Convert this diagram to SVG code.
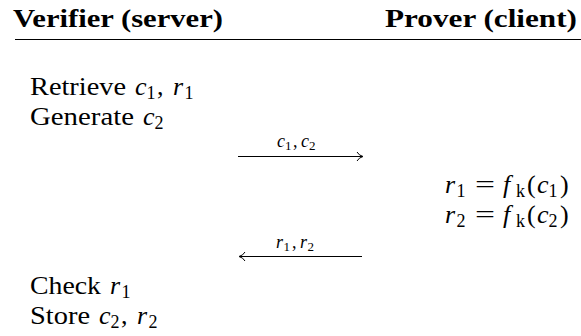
<svg xmlns="http://www.w3.org/2000/svg" width="581" height="336" viewBox="0 0 581 336">
<style>
text{font-family:"Liberation Serif","Times New Roman",serif;fill:#000;}
.hd{font-size:26px;font-weight:bold;}
.t{font-size:26px;}
.i{font-style:italic;}
.s{font-size:18px;}
.lb{font-size:18px;}
.lbs{font-size:13px;}
.ln{stroke:#000;stroke-width:1;fill:none;}
</style>
<rect width="581" height="336" fill="#fff"/>
<g id="header">
<text class="hd" x="13" y="27" textLength="210" lengthAdjust="spacingAndGlyphs">Verifier (server)</text>
<text class="hd" x="385" y="27" textLength="192" lengthAdjust="spacingAndGlyphs">Prover (client)</text>
<line class="ln" x1="15" y1="39.5" x2="581" y2="39.5"/>
</g>
<g id="verifier-step1">
<text class="t" y="95"><tspan x="30" textLength="96" lengthAdjust="spacingAndGlyphs">Retrieve</tspan><tspan class="i" x="135">c</tspan><tspan class="s" x="146.5" y="99">1</tspan><tspan x="157" y="95">,</tspan><tspan class="i" x="173">r</tspan><tspan class="s" x="184.5" y="99">1</tspan></text>
<text class="t" y="125"><tspan x="30" textLength="104" lengthAdjust="spacingAndGlyphs">Generate</tspan><tspan class="i" x="143">c</tspan><tspan class="s" x="154.5" y="129">2</tspan></text>
</g>
<g id="prover-step">
<text class="t" y="193"><tspan class="i" x="445">r</tspan><tspan class="s" x="456.5" y="197">1</tspan><tspan x="475" y="193" textLength="20" lengthAdjust="spacingAndGlyphs">=</tspan><tspan class="i" x="503">f</tspan><tspan class="s" x="516" y="197">k</tspan><tspan x="527" y="193">(</tspan><tspan class="i" x="537">c</tspan><tspan class="s" x="548.5" y="197">1</tspan><tspan x="560" y="193">)</tspan></text>
<text class="t" y="223"><tspan class="i" x="445">r</tspan><tspan class="s" x="456.5" y="227">2</tspan><tspan x="475" y="223" textLength="20" lengthAdjust="spacingAndGlyphs">=</tspan><tspan class="i" x="503">f</tspan><tspan class="s" x="516" y="227">k</tspan><tspan x="527" y="223">(</tspan><tspan class="i" x="537">c</tspan><tspan class="s" x="548.5" y="227">2</tspan><tspan x="560" y="223">)</tspan></text>
</g>
<g id="verifier-step2">
<text class="t" y="294"><tspan x="30" textLength="71" lengthAdjust="spacingAndGlyphs">Check</tspan><tspan class="i" x="110">r</tspan><tspan class="s" x="121.5" y="298">1</tspan></text>
<text class="t" y="324"><tspan x="30" textLength="60" lengthAdjust="spacingAndGlyphs">Store</tspan><tspan class="i" x="99">c</tspan><tspan class="s" x="110.5" y="328">2</tspan><tspan x="121" y="324">,</tspan><tspan class="i" x="137">r</tspan><tspan class="s" x="148.5" y="328">2</tspan></text>
</g>
<g id="connectors">
<g id="msg1">
<line class="ln" x1="238" y1="156.5" x2="362" y2="156.5"/>
<path class="ln" d="M357,152 Q359,155.5 363,156.5 Q359,157.5 357,161"/>
<text class="lb" y="147"><tspan class="i" x="277">c</tspan><tspan class="lbs" x="285" y="150">1</tspan><tspan x="293" y="147">,</tspan><tspan class="i" x="301">c</tspan><tspan class="lbs" x="309" y="150">2</tspan></text>
</g>
<g id="msg2">
<line class="ln" x1="240" y1="256.5" x2="362" y2="256.5"/>
<path class="ln" d="M245,252 Q243,255.5 239,256.5 Q243,257.5 245,261"/>
<text class="lb" y="248"><tspan class="i" x="276">r</tspan><tspan class="lbs" x="283.5" y="251">1</tspan><tspan x="292" y="248">,</tspan><tspan class="i" x="300">r</tspan><tspan class="lbs" x="307.5" y="251">2</tspan></text>
</g>
</g>
</svg>
